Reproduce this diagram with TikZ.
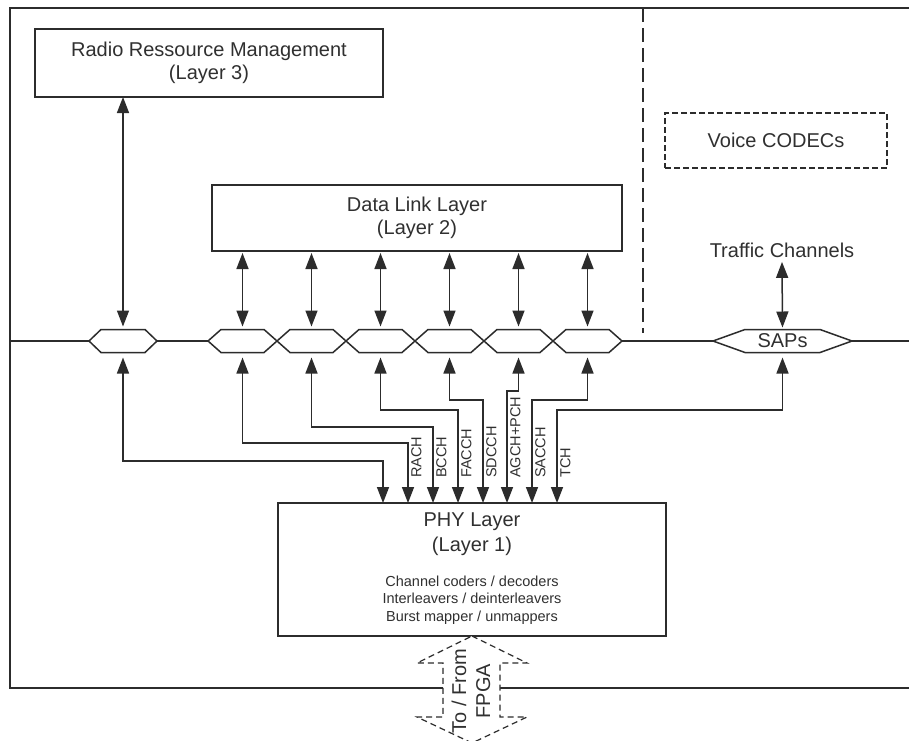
\documentclass[tikz,border=0pt]{standalone}
\usepackage{fontspec}
\setmainfont{Liberation Sans}
\usetikzlibrary{arrows.meta}
\definecolor{lc}{HTML}{2C2C2C}
\definecolor{tc}{HTML}{303030}
\newcommand\mkhex[4]{%
  \node[hexbox, minimum width=#3pt] (#1) at (#2,341) {};
  \draw[ln, fill=white, line join=miter] (#1.west) -- ([xshift=#4pt]#1.north west) -- ([xshift=-#4pt]#1.north east) -- (#1.east) -- ([xshift=-#4pt]#1.south east) -- ([xshift=#4pt]#1.south west) -- cycle;}
\begin{document}
\begin{tikzpicture}[x=1pt,y=-1pt,
  ln/.style={draw=lc, line width=1.5pt},
  dbl/.style={ln, arrows={Triangle[width=12pt,length=16pt]-Triangle[width=12pt,length=16pt]}},
  big/.style={font=\fontsize{20}{23}\selectfont, text=tc, align=center},
  small/.style={font=\fontsize{14.5}{17.5}\selectfont, text=tc, align=center},
  box/.style={ln, fill=white, rectangle, inner sep=0pt, outer sep=0pt, big},
  hexbox/.style={rectangle, inner sep=0pt, outer sep=0pt, minimum height=23pt},
  lbl/.style={font=\fontsize{14.5}{14.5}\selectfont, text=tc, rotate=90, anchor=north west, inner sep=1pt}
]
\useasboundingbox (0,0) rectangle (909,740);
\fill[white] (0,0) rectangle (909,740);

% frame and divider
\coordinate (ftr) at (909,8);
\coordinate (ftl) at (10,8);
\coordinate (fbl) at (10,688);
\coordinate (fbr) at (909,688);
\draw[ln, line width=1.7pt] (ftr) -- (ftl) -- (fbl) -- (fbr);
\coordinate (dvt) at (643,8);
\coordinate (dvb) at (643,333);
\draw[ln, dash pattern=on 14pt off 6pt] (dvt) -- (dvb);

% SAP line
\coordinate (sl) at (10,341);
\coordinate (sr) at (909,341);
\draw[ln] (sl) -- (sr);

% boxes
\node[box, minimum width=348pt, minimum height=68pt] (rrm) at (209,63) {Radio Ressource Management\\(Layer 3)};
\node[box, minimum width=410pt, minimum height=66pt] (dll) at (417,218) {Data Link Layer\\(Layer 2)};
\node[box, dash pattern=on 6pt off 3pt, minimum width=222pt, minimum height=55pt] (voc) at (776,140.5) {Voice CODECs};
\node[box, minimum width=388pt, minimum height=133pt] (phy) at (472,569.5) {};
\node[big, font=\fontsize{20}{25}\selectfont] (phyt) at (472,534.5) {PHY Layer\\(Layer 1)};
\node[small] (phyd) at (472,600) {Channel coders / decoders\\Interleavers / deinterleavers\\Burst mapper / unmappers};
\node[big] (tc) at (782,250) {Traffic Channels};

% SAP hexagons
\mkhex{h1}{123}{68}{12}
\mkhex{h2}{242.5}{69}{13}
\mkhex{h3}{311.5}{69}{13}
\mkhex{h4}{380.5}{69}{13}
\mkhex{h5}{449.5}{69}{13}
\mkhex{h6}{518.5}{69}{13}
\mkhex{h7}{587.5}{69}{13}
\mkhex{sap}{782.5}{139}{32}
\node[big] (saptxt) at (sap) {SAPs};

% upper connectors
\draw[dbl, shorten >=3pt] (h1 |- rrm.south) -- (h1.north);
\foreach \h in {h2,h3,h4,h5,h6,h7}{
  \draw[dbl, shorten <=2pt, shorten >=3pt] (\h |- dll.south) -- (\h.north);
}
\draw[dbl, shorten <=1pt, shorten >=2pt] (tc.south) -- (sap.north);

% PHY entry points and route corners
\foreach \i/\x in {1/383,2/408,3/433,4/458,5/483,6/507,7/532,8/557}{
  \coordinate (p\i) at (\x,503);
}
\coordinate (r1) at (383,461);
\coordinate (r2) at (408,443);
\coordinate (r3) at (433,427);
\coordinate (r4) at (458,410);
\coordinate (r5) at (483,400);
\coordinate (r6) at (507,391);
\coordinate (r7) at (532,400);
\coordinate (r8) at (557,410);

\draw[dbl, shorten <=5pt] (h1.south) |- (r1) -- (p1);
\draw[dbl, shorten <=5pt] (h2.south) |- (r2) -- (p2);
\draw[dbl, shorten <=5pt] (h3.south) |- (r3) -- (p3);
\draw[dbl, shorten <=5pt] (h4.south) |- (r4) -- (p4);
\draw[dbl, shorten <=5pt] (h5.south) |- (r5) -- (p5);
\draw[dbl, shorten <=5pt] (h6.south) |- (r6) -- (p6);
\draw[dbl, shorten <=5pt] (h7.south) |- (r7) -- (p7);
\draw[dbl, shorten <=5pt] (sap.south) |- (r8) -- (p8);

% channel labels
\node[lbl] (lrach) at (410,479) {RACH};
\node[lbl] (lbcch) at (435,479) {BCCH};
\node[lbl] (lfacch) at (460,479) {FACCH};
\node[lbl] (lsdcch) at (485,479) {SDCCH};
\node[lbl] (lagch) at (509,479) {AGCH+PCH};
\node[lbl] (lsacch) at (534,479) {SACCH};
\node[lbl] (ltch) at (559,479) {TCH};

% FPGA dashed double arrow
\draw[ln, line width=1.2pt, fill=white, dash pattern=on 6pt off 4pt, line join=miter]
  (phy.south) -- (527,663) -- (500,663) -- (500,717) -- (527,717) -- (472,743)
  -- (417,717) -- (443,717) -- (443,663) -- (417,663) -- cycle;
\node[big, rotate=90, font=\fontsize{20}{24}\selectfont] (fpga) at (471,691) {To / From\\FPGA};
\end{tikzpicture}
\end{document}
